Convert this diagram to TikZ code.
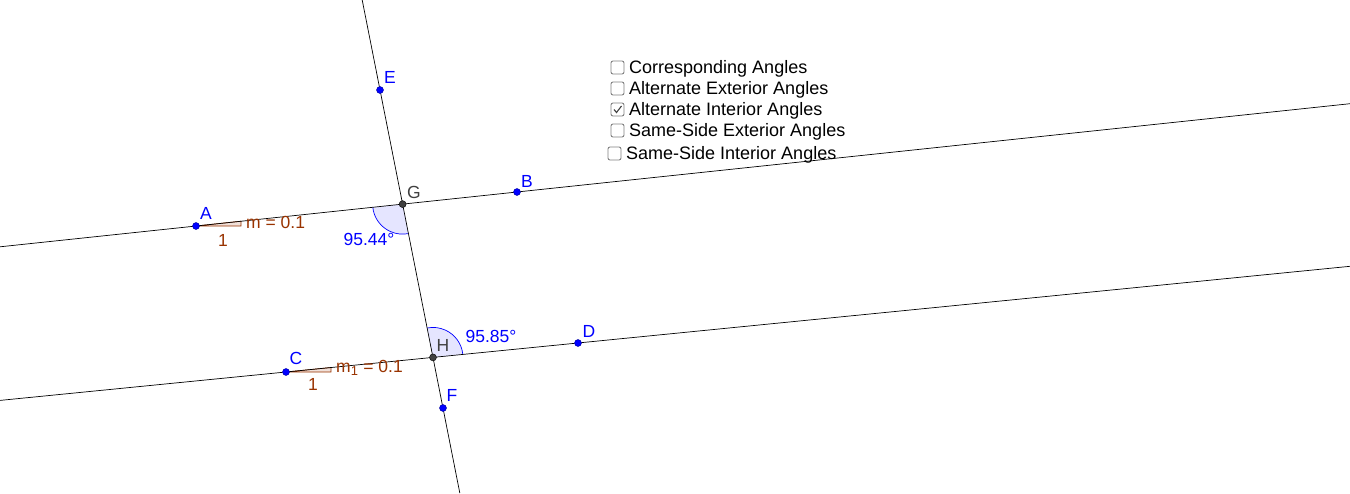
\documentclass[tikz,border=0pt]{standalone}
\usepackage{fontspec}
\setmainfont{Liberation Sans}
\usetikzlibrary{angles,quotes,calc}
\definecolor{ptblue}{RGB}{0,0,255}
\definecolor{ggbrown}{RGB}{153,51,0}
\definecolor{anglefill}{RGB}{229,229,255}
\definecolor{ptdark}{RGB}{64,64,64}
\begin{document}
\begin{tikzpicture}[x=1pt,y=-1pt,
  every node/.style={font=\fontsize{17.5}{20}\selectfont},
  ln/.style={draw=black,line width=0.7pt},
  bpt/.style={circle,fill=ptblue,draw=ptblue!60!black,inner sep=0pt,minimum size=7pt},
  dpt/.style={circle,fill=ptdark,draw=black,inner sep=0pt,minimum size=7pt},
  blab/.style={text=ptblue,inner sep=0pt},
  glab/.style={text=ptdark,inner sep=0pt},
  brlab/.style={text=ggbrown,inner sep=0pt},
  slopetri/.style={draw=ggbrown,fill=ggbrown!15,line width=0.7pt},
  angwedge/.style={draw=ptblue,fill=anglefill,line width=0.7pt,angle radius=30pt},
  cbox/.style={draw=gray,rounded corners=2pt,line width=0.9pt,minimum size=13pt,inner sep=0pt},
  cbtext/.style={font=\fontsize{18}{21}\selectfont,anchor=base west,inner sep=0pt}]
\useasboundingbox (0,0) rectangle (1350,493);
\fill[white] (0,0) rectangle (1350,493);
% defining points
\coordinate (A) at (196,226);
\coordinate (B) at (517,192);
\coordinate (C) at (286,372);
\coordinate (D) at (578,343);
\coordinate (E) at (380,90);
\coordinate (F) at (443,408);
\coordinate (G) at (intersection of A--B and E--F);
\coordinate (H) at (intersection of C--D and E--F);
% line ends
\coordinate (L1a) at (0,246.8);
\coordinate (L1b) at (1350,103.7);
\coordinate (L2a) at (0,400.4);
\coordinate (L2b) at (1350,266.3);
\coordinate (T1) at (362.2,0);
\coordinate (T2) at (459.8,493);
% angles
\pic[angwedge] {angle=A--G--H};
\pic[angwedge] {angle=D--H--G};
% slope triangles
\coordinate (A1) at (241,226);
\coordinate (A2) at (241,221.2);
\coordinate (C1) at (331,372);
\coordinate (C2) at (331,367.5);
\draw[slopetri] (A) -- (A1) -- (A2) -- cycle;
\draw[slopetri] (C) -- (C1) -- (C2) -- cycle;
% lines
\draw[ln] (L1a) -- (L1b);
\draw[ln] (L2a) -- (L2b);
\draw[ln] (T1) -- (T2);
% points
\node[bpt] (pA) at (A) {};
\node[bpt] (pB) at (B) {};
\node[bpt] (pC) at (C) {};
\node[bpt] (pD) at (D) {};
\node[bpt] (pE) at (E) {};
\node[bpt] (pF) at (F) {};
\node[dpt] (pG) at (G) {};
\node[dpt] (pH) at (H) {};
% point labels
\node[blab] (lA) at (206,213) {A};
\node[blab] (lB) at (527,181) {B};
\node[blab] (lC) at (296,358) {C};
\node[blab] (lD) at (589,331) {D};
\node[blab] (lE) at (390,77) {E};
\node[blab] (lF) at (452,395) {F};
\node[glab] (lG) at (414,192) {G};
\node[glab] (lH) at (443,345) {H};
% angle labels
\node[blab] (aG) at (369,239) {95.44°};
\node[blab] (aH) at (491,336) {95.85°};
% slope labels
\node[brlab] (oneA) at (223,240) {1};
\node[brlab,anchor=west] (mA) at (246,222) {m = 0.1};
\node[brlab] (oneC) at (313,384) {1};
\node[brlab,anchor=west] (mC) at (336,368) {m$_{\mbox{\fontsize{13}{15}\selectfont 1}}$ = 0.1};
% checkboxes
\node[cbox] (cb1) at (617.5,67.5) {};
\node[cbtext] (t1) at (629,73) {Corresponding Angles};
\node[cbox] (cb2) at (617.5,88.5) {};
\node[cbtext] (t2) at (629,94) {Alternate Exterior Angles};
\node[cbox] (cb3) at (617.5,109.5) {};
\draw[line width=1.1pt,ptdark] ($(cb3.center)+(-3.5,0)$) -- ($(cb3.center)+(-1,3)$) -- ($(cb3.center)+(4,-3.5)$);
\node[cbtext] (t3) at (629,115) {Alternate Interior Angles};
\node[cbox] (cb4) at (617.5,130.5) {};
\node[cbtext] (t4) at (629,136) {Same-Side Exterior Angles};
\node[cbox] (cb5) at (614.5,153.5) {};
\node[cbtext] (t5) at (626,159) {Same-Side Interior Angles};
\end{tikzpicture}
\end{document}
